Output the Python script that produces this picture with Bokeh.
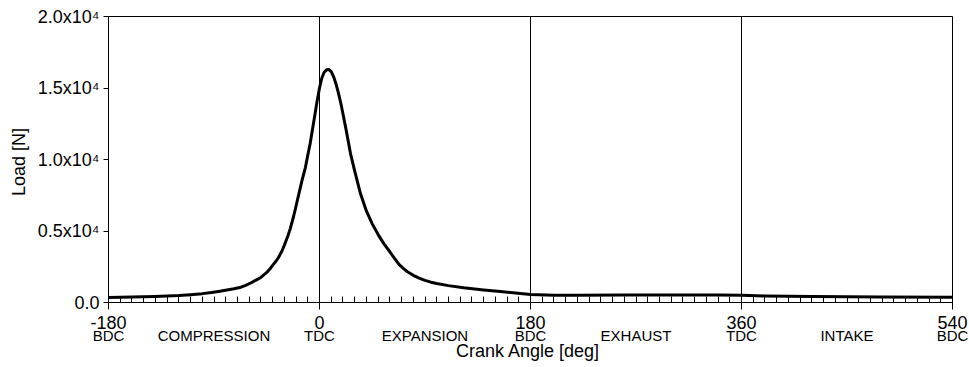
from bokeh.plotting import figure
from bokeh.models import Range1d, FixedTicker, LinearAxis, Span
from bokeh.embed import file_html
from bokeh.resources import INLINE

crank_deg = [-180, -160, -140, -120, -110, -100, -92, -85, -79, -73, -67, -63, -59,
             -55, -50, -45, -42, -39, -37, -35, -32, -30, -27, -25, -22, -20, -18,
             -15, -12, -10, -8, -6, -4, -2, 0, 2, 4, 6, 8, 10, 12, 14, 16, 18, 20,
             23, 26.5, 30, 35, 40, 45, 50, 55, 60, 64, 68, 72, 75, 80, 85, 90, 95,
             100, 110, 123, 140, 152, 165, 180, 200, 220, 260, 300, 340, 360, 380,
             420, 480, 540]
load_n = [350, 380, 420, 490, 550, 620, 700, 780, 870, 960, 1070, 1200, 1350,
          1530, 1750, 2100, 2380, 2700, 2900, 3150, 3600, 4000, 4650, 5150, 6050,
          6750, 7450, 8500, 9450, 10300, 11100, 12100, 13100, 14100, 15000, 15700,
          16100, 16280, 16300, 16150, 15800, 15300, 14700, 14000, 13200, 11950,
          10400, 9200, 7600, 6400, 5500, 4750, 4100, 3550, 3080, 2650, 2350, 2150,
          1900, 1700, 1550, 1420, 1330, 1180, 1030, 880, 790, 680, 560, 510, 500,
          520, 530, 520, 500, 460, 420, 390, 370]

phase_bounds = [0, 180, 360]
y_ticks = [0, 5000, 10000, 15000, 20000]
y_labels = ["0.0", "0.5x10⁴", "1.0x10⁴", "1.5x10⁴", "2.0x10⁴"]
x_major = [-180, 0, 180, 360, 540]
x_major_labels = ["-180", "0", "180", "360", "540"]
x_minor = list(range(-180, 541, 10))
phase_pos = [-180, -90, 0, 90, 180, 270, 360, 450, 540]
phase_labels = ["BDC", "COMPRESSION", "TDC", "EXPANSION", "BDC", "EXHAUST",
                "TDC", "INTAKE", "BDC"]

FONT = "Liberation Sans"

p = figure(width=969, height=367, output_backend="svg", toolbar_location=None,
           tools="", x_range=Range1d(-180, 540), y_range=Range1d(0, 20000),
           min_border_left=108, min_border_right=17, min_border_top=16,
           min_border_bottom=65)
p.xgrid.visible = False
p.ygrid.visible = False
p.outline_line_color = "black"
p.outline_line_width = 1
p.background_fill_color = "white"
p.border_fill_color = "white"

xa = p.xaxis[0]
xa.ticker = FixedTicker(ticks=x_major, minor_ticks=x_minor)
xa.major_label_overrides = dict(zip(x_major, x_major_labels))
xa.major_tick_out = 7
xa.major_tick_in = 0
xa.minor_tick_in = 6
xa.minor_tick_out = 0
xa.axis_line_color = "black"
xa.major_tick_line_color = "black"
xa.minor_tick_line_color = "black"
xa.major_label_text_font = FONT
xa.major_label_text_font_size = "18px"
xa.major_label_text_color = "black"
xa.major_label_standoff = 6

wa = LinearAxis(ticker=FixedTicker(ticks=phase_pos),
                major_label_overrides=dict(zip(phase_pos, phase_labels)),
                axis_line_color=None, major_tick_line_color=None,
                minor_tick_line_color=None, major_label_standoff=-11,
                major_label_text_font=FONT, major_label_text_font_size="15px",
                major_label_text_color="black",
                axis_label="Crank Angle  [deg]", axis_label_text_font=FONT,
                axis_label_text_font_size="18px", axis_label_text_font_style="normal",
                axis_label_text_color="black", axis_label_standoff=-6)
p.add_layout(wa, "below")

ya = p.yaxis[0]
ya.ticker = FixedTicker(ticks=y_ticks)
ya.major_label_overrides = dict(zip(y_ticks, y_labels))
ya.major_tick_out = 5
ya.major_tick_in = 0
ya.minor_tick_line_color = None
ya.axis_line_color = "black"
ya.major_tick_line_color = "black"
ya.major_label_text_font = FONT
ya.major_label_text_font_size = "18px"
ya.major_label_text_color = "black"
ya.major_label_standoff = 4
ya.axis_label = "Load  [N]"
ya.axis_label_text_font = FONT
ya.axis_label_text_font_size = "18px"
ya.axis_label_text_font_style = "normal"
ya.axis_label_text_color = "black"
ya.axis_label_standoff = 6

for b in phase_bounds:
    p.add_layout(Span(location=b, dimension="height", line_color="black",
                      line_width=1))

p.line(crank_deg, load_n, line_width=3, color="black", line_join="round")

open("out.html", "w").write(file_html(p, INLINE))
